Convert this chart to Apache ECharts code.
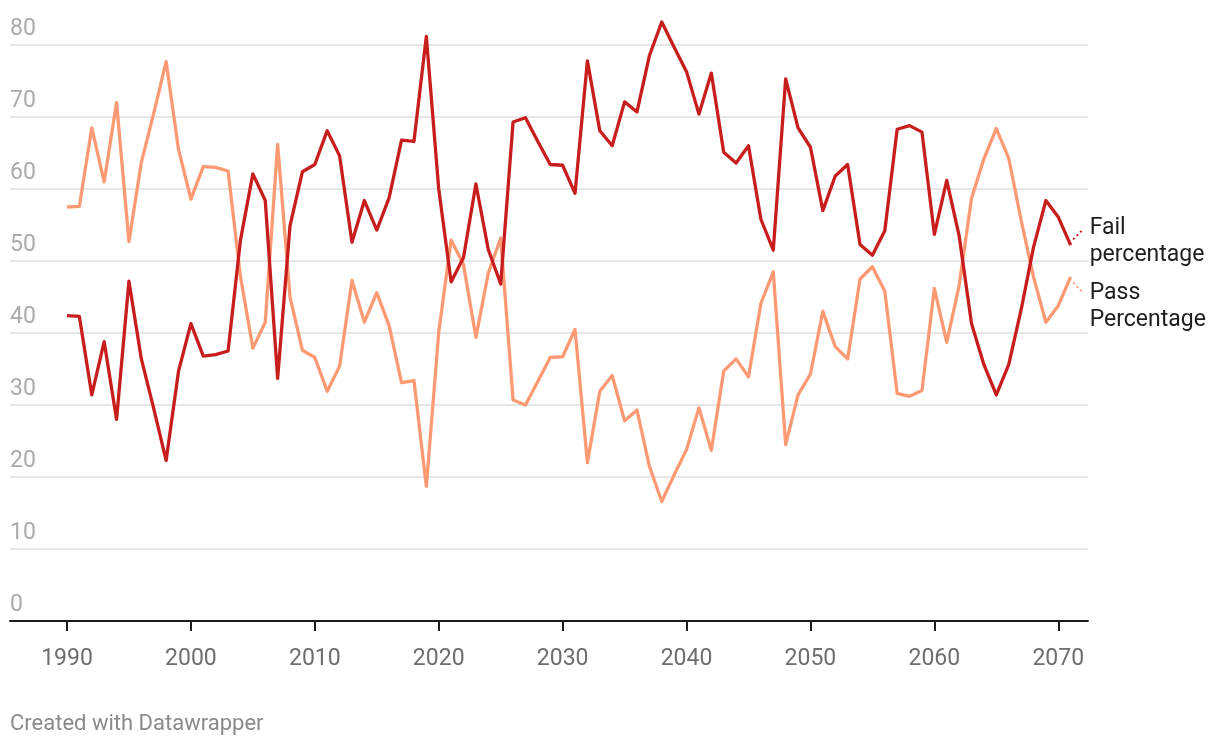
<!DOCTYPE html>
<html>
<head>
<meta charset="utf-8">
<script src="https://cdn.jsdelivr.net/npm/echarts@6/dist/echarts.min.js"></script>
<style>
  html, body { margin: 0; padding: 0; background: #fff; }
  #chart { width: 1220px; height: 748px; }
</style>
</head>
<body>
<div id="chart"></div>
<script>
// ---- Data ----
const years = [];
for (let y = 1990; y <= 2071; y++) years.push(y);

const failPct = [
  42.4, 42.3, 31.4, 38.8, 28.0, 47.2, 36.4, 29.5, 22.3, 34.7,
  41.3, 36.8, 37.0, 37.5, 52.9, 62.1, 58.4, 33.7, 54.9, 62.4,
  63.4, 68.1, 64.6, 52.6, 58.4, 54.3, 58.8, 66.8, 66.6, 81.2,
  60.0, 47.1, 50.5, 60.7, 51.6, 46.8, 69.3, 69.9, 66.6, 63.4,
  63.3, 59.4, 77.8, 68.1, 66.0, 72.1, 70.7, 78.5, 83.2, 79.7,
  76.3, 70.4, 76.1, 65.1, 63.6, 66.0, 55.8, 51.5, 75.3, 68.5,
  65.8, 57.0, 61.8, 63.4, 52.3, 50.8, 54.2, 68.3, 68.8, 67.9,
  53.7, 61.2, 53.5, 41.3, 35.6, 31.4, 35.6, 43.2, 51.9, 58.4,
  56.1, 52.2
];

const passPct = [
  57.5, 57.6, 68.5, 61.0, 72.0, 52.7, 63.7, 70.5, 77.7, 65.5,
  58.6, 63.1, 63.0, 62.5, 47.8, 37.9, 41.5, 66.2, 45.0, 37.6,
  36.6, 31.9, 35.4, 47.3, 41.5, 45.6, 41.0, 33.1, 33.4, 18.7,
  40.1, 52.9, 49.5, 39.4, 48.3, 53.2, 30.7, 30.0, 33.3, 36.6,
  36.7, 40.5, 22.0, 31.9, 34.1, 27.8, 29.3, 21.5, 16.6, 20.3,
  23.8, 29.6, 23.7, 34.7, 36.4, 33.9, 44.1, 48.5, 24.5, 31.4,
  34.3, 43.0, 38.1, 36.4, 47.5, 49.2, 45.8, 31.6, 31.2, 32.0,
  46.2, 38.7, 46.6, 58.7, 64.2, 68.4, 64.3, 55.7, 47.8, 41.5,
  43.8, 47.8
];

const xTicks = [1990, 2000, 2010, 2020, 2030, 2040, 2050, 2060, 2070];
const seriesNames = ['Fail\npercentage', 'Pass\nPercentage'];
const footer = 'Created with Datawrapper';

// ---- Chart ----
const FAIL_COLOR = '#c71e1d';
const PASS_COLOR = '#fd9a74';
const FONT = 'Roboto, "Noto Sans", sans-serif';

const toPairs = arr => years.map((y, i) => [y, arr[i]]);
const lastYear = years[years.length - 1];
const lastFail = failPct[failPct.length - 1];
const lastPass = passPct[passPct.length - 1];

const chart = echarts.init(document.getElementById('chart'), null, { renderer: 'canvas' });

chart.setOption({
  animation: false,
  backgroundColor: '#ffffff',
  title: {
    text: footer,
    left: 10,
    top: 713,
    padding: 0,
    textStyle: { fontFamily: FONT, fontSize: 22, fontWeight: 'normal', color: '#8a8a8a' }
  },
  grid: { left: 10, right: 132, top: 45, bottom: 127, containLabel: false },
  xAxis: {
    type: 'value',
    min: 1985.4,
    max: 2072.4,
    splitLine: { show: false },
    axisLine: { show: true, onZero: false, lineStyle: { color: '#1d1d1d', width: 2 } },
    axisTick: { show: true, customValues: xTicks, length: 10, lineStyle: { color: '#1d1d1d', width: 2 } },
    axisLabel: {
      customValues: xTicks,
      color: '#6e6e6e',
      fontSize: 23,
      fontFamily: FONT,
      margin: 27,
      formatter: v => String(v)
    }
  },
  yAxis: {
    type: 'value',
    min: 0,
    max: 80,
    interval: 10,
    axisLine: { show: false },
    axisTick: { show: false },
    splitLine: { show: true, lineStyle: { color: '#e6e6e6', width: 2 } },
    axisLabel: {
      inside: true,
      margin: 0,
      color: '#ababab',
      fontSize: 23,
      fontFamily: FONT,
      align: 'left',
      verticalAlign: 'bottom',
      padding: [0, 0, 4, 0]
    }
  },
  series: [
    {
      name: 'Pass Percentage',
      type: 'line',
      data: toPairs(passPct),
      clip: false,
      showSymbol: false,
      symbol: 'none',
      lineStyle: { color: PASS_COLOR, width: 3.3, join: 'round' },
      itemStyle: { color: PASS_COLOR },
      z: 2,
      endLabel: {
        show: true,
        formatter: seriesNames[1],
        fontFamily: FONT,
        fontSize: 23,
        lineHeight: 27,
        color: '#1e1e1e',
        distance: 19,
        offset: [0, 30]
      },
      markLine: {
        silent: true,
        symbol: ['none', 'none'],
        label: { show: false },
        lineStyle: { color: PASS_COLOR, type: [2, 3], width: 2 },
        data: [[{ coord: [lastYear + 0.2, lastPass - 0.8] }, { coord: [lastYear + 1.0, lastPass - 2.2] }]]
      }
    },
    {
      name: 'Fail percentage',
      type: 'line',
      data: toPairs(failPct),
      clip: false,
      showSymbol: false,
      symbol: 'none',
      lineStyle: { color: FAIL_COLOR, width: 3.3, join: 'round' },
      itemStyle: { color: FAIL_COLOR },
      z: 3,
      endLabel: {
        show: true,
        formatter: seriesNames[0],
        fontFamily: FONT,
        fontSize: 23,
        lineHeight: 27,
        color: '#1e1e1e',
        distance: 19,
        offset: [0, -3]
      },
      markLine: {
        silent: true,
        symbol: ['none', 'none'],
        label: { show: false },
        lineStyle: { color: FAIL_COLOR, type: [2, 3], width: 2 },
        data: [[{ coord: [lastYear + 0.2, lastFail + 0.8] }, { coord: [lastYear + 1.0, lastFail + 2.2] }]]
      }
    }
  ]
});
</script>
</body>
</html>
